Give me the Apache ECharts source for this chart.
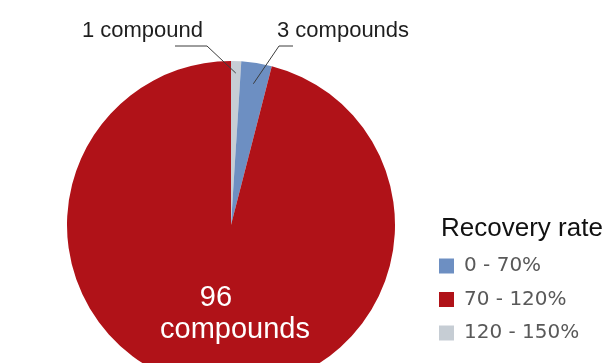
<!DOCTYPE html>
<html>
<head>
<meta charset="utf-8">
<style>
  html, body { margin: 0; padding: 0; background: #ffffff; }
  #chart { width: 606px; height: 363px; }
</style>
<script src="https://cdn.jsdelivr.net/npm/echarts@6/dist/echarts.min.js"></script>
</head>
<body>
<div id="chart"></div>
<script>
// Recovery rate ranges (legend order) and number of compounds in each
const ranges = ['0 - 70%', '70 - 120%', '120 - 150%'];
const compoundCounts = [3, 96, 1];
const sliceColors = ['#6d8fc2', '#b01218', '#c6cdd4'];
// Slice labels
const sliceLabels = ['3 compounds', '{n|96}\n{c|compounds}', '1 compound'];
// Order slices are drawn clockwise from 12 o'clock
const drawOrder = [2, 0, 1];

const pieCenter = [231, 225];
const pieRadius = 164;

const chart = echarts.init(document.getElementById('chart'), null, { renderer: 'canvas' });

// Filled slices
const sliceData = drawOrder.map(i => ({
  name: ranges[i],
  value: compoundCounts[i],
  itemStyle: { color: sliceColors[i] }
}));

// Same slices, unfilled, carrying the labels and leader lines on top
const labelData = drawOrder.map(i => ({
  name: ranges[i],
  value: compoundCounts[i],
  itemStyle: { color: 'rgba(0,0,0,0)' },
  label: i === 1
    ? { show: true, position: 'inside', formatter: sliceLabels[i], color: '#ffffff',
        fontFamily: 'Liberation Sans',
        rich: {
          n: { fontSize: 29, lineHeight: 32, color: '#ffffff', padding: [0, 38, 0, 0], fontFamily: 'Liberation Sans' },
          c: { fontSize: 29, lineHeight: 32, color: '#ffffff', fontFamily: 'Liberation Sans' }
        } }
    : { show: true, position: 'outside', formatter: sliceLabels[i], color: '#1e1e1e',
        fontSize: 22, fontFamily: 'Liberation Sans' },
  labelLine: { show: i !== 1 }
}));

// Mid angle (radians, clockwise from 12 o'clock) of each slice
const total = labelData.reduce((s, d) => s + d.value, 0);
let acc = 0;
const midAngles = labelData.map(d => {
  const a = (acc + d.value / 2) / total * Math.PI * 2;
  acc += d.value;
  return a;
});

// Label placement; leader lines start `inset` px inside the slice edge
// and finish with a short horizontal run of `tail` px under the text
const labelPlacement = {
  '120 - 150%': { x: 203, y: 31, align: 'right', inset: 12, tail: -32, anchorX: 207 },
  '0 - 70%': { x: 277, y: 31, align: 'left', inset: 21, tail: 14, anchorX: 279 },
  '70 - 120%': { x: 235, y: 314, align: 'center' }
};

const pieBase = {
  type: 'pie',
  center: pieCenter,
  radius: pieRadius,
  startAngle: 90,
  clockwise: true,
  avoidLabelOverlap: false,
  emphasis: { disabled: true },
  itemStyle: { borderWidth: 0 }
};

chart.setOption({
  animation: false,
  title: {
    text: 'Recovery rate',
    left: 441,
    top: 216,
    padding: 0,
    textStyle: { fontSize: 26, fontWeight: 'normal', color: '#111111', fontFamily: 'Liberation Sans' }
  },
  legend: {
    data: ranges,
    orient: 'vertical',
    left: 439,
    top: 256,
    padding: 0,
    itemWidth: 15,
    itemHeight: 15,
    itemGap: 13.5,
    icon: 'rect',
    textStyle: { fontSize: 20, lineHeight: 20, color: '#595959', fontFamily: 'DejaVu Sans', padding: [0, 0, 0, 5] }
  },
  series: [
    Object.assign({}, pieBase, {
      z: 2,
      label: { show: false },
      labelLine: { show: false },
      data: sliceData
    }),
    Object.assign({}, pieBase, {
      z: 5,
      silent: true,
      labelLine: { show: true, lineStyle: { color: '#3c3c3c', width: 1 } },
      data: labelData,
      labelLayout: function (params) {
        const p = labelPlacement[labelData[params.dataIndex].name];
        if (!p) return {};
        const out = { x: p.x, y: p.y, align: p.align, verticalAlign: 'middle' };
        if (p.inset !== undefined) {
          const a = midAngles[params.dataIndex];
          const r = pieRadius - p.inset;
          const inner = [pieCenter[0] + r * Math.sin(a), pieCenter[1] - r * Math.cos(a)];
          const baseY = p.y + 15;
          out.labelLinePoints = [inner, [p.anchorX, baseY], [p.anchorX + p.tail, baseY]];
        }
        return out;
      }
    })
  ]
});
</script>
</body>
</html>
